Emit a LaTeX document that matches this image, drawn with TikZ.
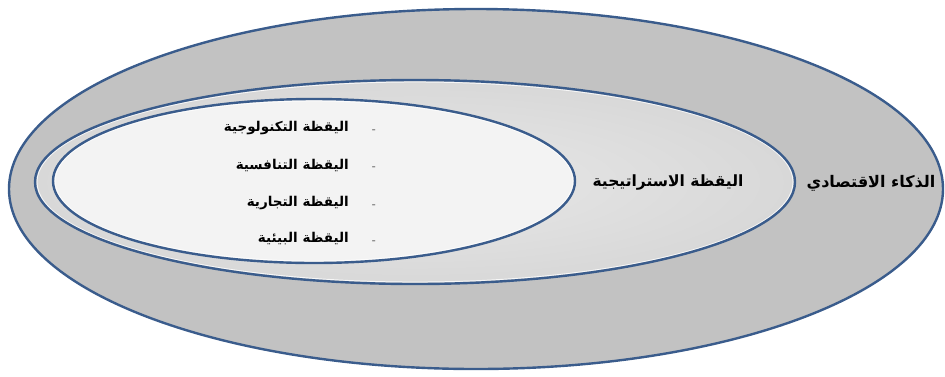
\documentclass[tikz,border=0pt]{standalone}
\usepackage{fontspec}
\newfontfamily\arabicfont[Script=Arabic]{DejaVu Sans}
\TeXXeTstate=1
\usetikzlibrary{shapes.geometric}
\definecolor{rim}{HTML}{3A5C8C}
\definecolor{outerfill}{HTML}{C2C2C2}
\definecolor{midfill}{HTML}{D8D8D8}
\definecolor{midlight}{HTML}{E8E8E8}
\definecolor{innerfill}{HTML}{F3F3F3}
\tikzset{
  ring/.style={draw=rim, line width=2.4pt},
  glow/.style={draw=white, line width=0.9pt, opacity=0.8},
  label/.style={font=\arabicfont\bfseries, inner sep=1pt},
  item/.style={label, font=\arabicfont\bfseries\fontsize{13.5}{15}\selectfont, anchor=east},
  bullet/.style={font=\bfseries\fontsize{10}{11}\selectfont, inner sep=0pt, text=black!60}
}
\begin{document}
\begin{tikzpicture}[x=1pt, y=-1pt]
  \useasboundingbox (0,0) rectangle (945,376);
  % outer level
  \draw[ring, fill=outerfill] (476,189) ellipse [x radius=467, y radius=180];
  % strategic watch
  \shade[inner color=midlight, outer color=midfill] (415,182) ellipse [x radius=380, y radius=102];
  \draw[glow] (415,182) ellipse [x radius=378, y radius=100];
  \draw[ring] (415,182) ellipse [x radius=380, y radius=102];
  % the four watch types
  \fill[innerfill] (314,181) ellipse [x radius=261, y radius=82];
  \draw[glow] (314,181) ellipse [x radius=259, y radius=80];
  \draw[ring] (314,181) ellipse [x radius=261, y radius=82];

  \node[label, font=\arabicfont\bfseries\fontsize{16}{18}\selectfont] (eco) at (871,183) {\beginR الذكاء الاقتصادي\endR};
  \node[label, font=\arabicfont\bfseries\fontsize{15.5}{17}\selectfont] (strat) at (668,182) {\beginR اليقظة الاستراتيجية\endR};

  \node[item] (tech) at (350,128) {\beginR اليقظة التكنولوجية\endR};
  \node[item] (comp) at (350,165) {\beginR اليقظة التنافسية\endR};
  \node[item] (comm) at (350,203) {\beginR اليقظة التجارية\endR};
  \node[item] (env)  at (350,239) {\beginR اليقظة البيئية\endR};

  \node[bullet] (d1) at (374,131) {-};
  \node[bullet] (d2) at (374,168) {-};
  \node[bullet] (d3) at (374,206) {-};
  \node[bullet] (d4) at (374,242) {-};
\end{tikzpicture}
\end{document}
